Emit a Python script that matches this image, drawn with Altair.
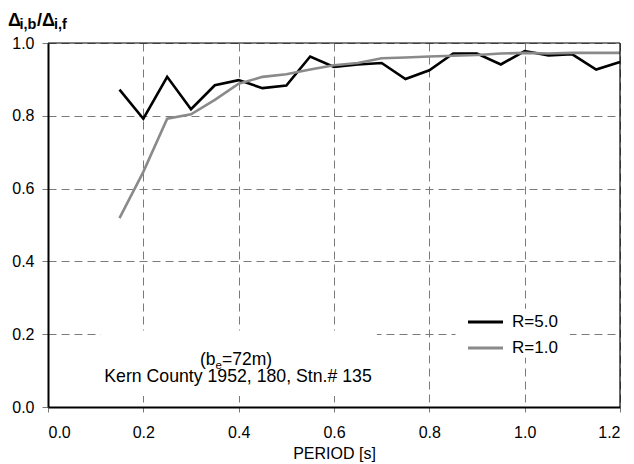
import altair as alt
import pandas as pd

# ---- data ----
periods = [0.15, 0.20, 0.25, 0.30, 0.35, 0.40, 0.45, 0.50, 0.55, 0.60, 0.65,
           0.70, 0.75, 0.80, 0.85, 0.90, 0.95, 1.00, 1.05, 1.10, 1.15, 1.20]
r50 = [0.872, 0.792, 0.907, 0.818, 0.884, 0.898, 0.876, 0.883, 0.963, 0.934, 0.941,
       0.945, 0.901, 0.925, 0.971, 0.971, 0.941, 0.978, 0.966, 0.969, 0.927, 0.948]
r10 = [0.519, 0.646, 0.792, 0.804, 0.844, 0.888, 0.907, 0.914, 0.927, 0.939, 0.945,
       0.958, 0.960, 0.963, 0.965, 0.967, 0.971, 0.973, 0.971, 0.973, 0.973, 0.973]
series_names = ["R=5.0", "R=1.0"]
series_colors = ["#000000", "#8a8a8a"]
x_ticks = [0.0, 0.2, 0.4, 0.6, 0.8, 1.0, 1.2]
y_ticks = [0.0, 0.2, 0.4, 0.6, 0.8, 1.0]
note_lines = ["(b", "e", "=72m)", "Kern County 1952, 180, Stn.# 135"]
title_parts = ["\u0394", "i,b", "/\u0394", "i,f"]

rows = []
for name, vals in zip(series_names, [r50, r10]):
    for p, v in zip(periods, vals):
        rows.append({"period": p, "ratio": v, "series": name})
df = pd.DataFrame(rows)

FONT = "Liberation Sans"
one = pd.DataFrame({"k": [0]})

x_enc = alt.X("period:Q", scale=alt.Scale(domain=[0, 1.2], nice=False, zero=False),
              axis=alt.Axis(values=x_ticks, format=".1f", title="PERIOD [s]", grid=True,
                            tickSize=5, labelPadding=12, titleFontWeight="normal",
                            titleFontSize=16, titleFont=FONT, titleColor="black",
                            titleBaseline="top", titleY=38))
y_enc = alt.Y("ratio:Q", scale=alt.Scale(domain=[0, 1.0], nice=False, zero=False),
              axis=alt.Axis(values=y_ticks, format=".1f", title=None, grid=True,
                            tickSize=6, labelPadding=8))
color_enc = alt.Color("series:N", scale=alt.Scale(domain=series_names, range=series_colors), legend=None)

base = alt.Chart(df)
lines = []
for name in series_names:
    lines.append(base.transform_filter(alt.datum.series == name)
                 .mark_line(strokeWidth=2.6)
                 .encode(x=x_enc, y=y_enc, color=color_enc))

note_box = alt.Chart(one).mark_rect(fill="white").encode(
    x=alt.datum(0.11), x2=alt.datum(0.69), y=alt.datum(0.03), y2=alt.datum(0.21))
legend_box = alt.Chart(one).mark_rect(fill="white").encode(
    x=alt.datum(0.855), x2=alt.datum(1.095), y=alt.datum(0.135), y2=alt.datum(0.27))

# plot frame (top and right edges) drawn over the grid
frame_top = alt.Chart(one).mark_rule(color="black", strokeWidth=1.2).encode(
    x=alt.value(0), x2=alt.value(572), y=alt.value(0))
frame_right = alt.Chart(one).mark_rule(color="black", strokeWidth=1.2).encode(
    x=alt.value(572), y=alt.value(0), y2=alt.value(364))

legend_layers = []
for i, (name, col) in enumerate(zip(series_names, series_colors)):
    yy = 279 + i * 26
    legend_layers.append(alt.Chart(one).mark_rule(color=col, strokeWidth=2.8).encode(
        x=alt.value(420), x2=alt.value(455), y=alt.value(yy)))
    legend_layers.append(alt.Chart(one).mark_text(
        text=name, font=FONT, fontSize=17, align="left", baseline="middle", color="black").encode(
        x=alt.value(464), y=alt.value(yy)))

def txt(s, x, y, size, weight="normal", align="left"):
    return alt.Chart(one).mark_text(text=s, font=FONT, fontSize=size, fontWeight=weight,
                                    align=align, baseline="alphabetic", color="black").encode(
        x=alt.value(x), y=alt.value(y))

notes = [
    txt(note_lines[0], 152, 322, 17.5),
    txt(note_lines[1], 167.5, 326, 11.5),
    txt(note_lines[2], 174, 322, 17.5),
    txt(note_lines[3], 190, 339, 17.7, align="center"),
]
title = [
    txt(title_parts[0], -40, -17, 18, "bold"),
    txt(title_parts[1], -28.5, -14, 14.5, "bold"),
    txt(title_parts[2], -11, -17, 18, "bold"),
    txt(title_parts[3], 6, -14, 14.5, "bold"),
]

chart = alt.layer(note_box, legend_box, *lines, frame_top, frame_right,
                  *legend_layers, *notes, *title).properties(
    width=572, height=364,
    autosize=alt.AutoSizeParams(type="none"),
    padding={"left": 40, "top": 35, "right": 6, "bottom": 57},
).configure_view(stroke=None).configure_axis(
    gridDash=[8, 5], gridColor="#7a7a7a", gridWidth=1,
    domainColor="black", domainWidth=2, tickColor="#7a7a7a", tickWidth=1,
    labelFont=FONT, labelFontSize=16, labelColor="black",
)

chart.save("out.html", embed_options={"renderer": "svg", "actions": False})
